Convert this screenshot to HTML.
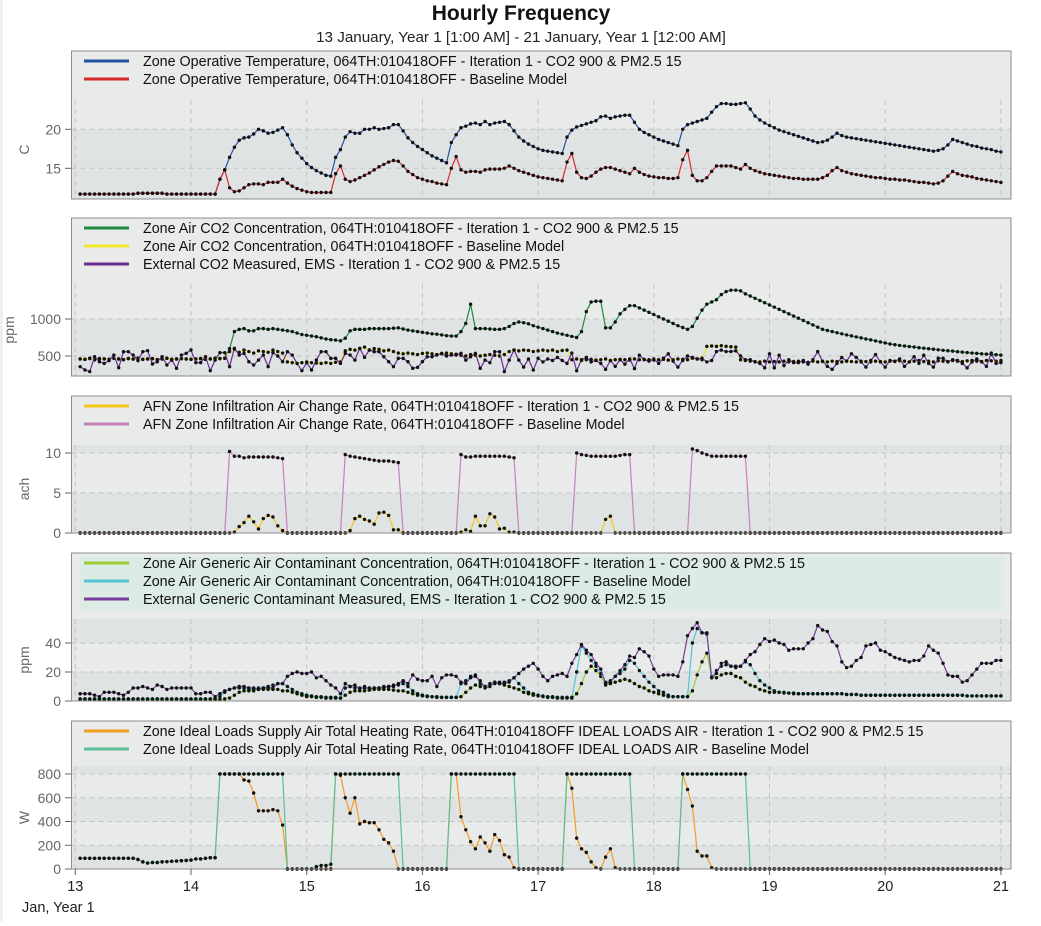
<!DOCTYPE html>
<html><head><meta charset="utf-8">
<style>
html,body{margin:0;padding:0;background:#fff;}
body{width:1041px;height:921px;overflow:hidden;position:relative;font-family:"Liberation Sans",Arial,sans-serif;}
svg text{font-family:"Liberation Sans",Arial,sans-serif;}
</style></head>
<body>
<svg id="chart" width="1041" height="921" viewBox="0 0 1041 921" xmlns="http://www.w3.org/2000/svg">
<rect x="0" y="0" width="3" height="921" fill="#efefef"/>
<text x="521" y="20" text-anchor="middle" font-size="21" font-weight="bold" fill="#111">Hourly Frequency</text>
<text x="521" y="42" text-anchor="middle" font-size="15.2" fill="#222">13 January, Year 1 [1:00 AM] - 21 January, Year 1 [12:00 AM]</text>
<g id="panels"></g>
</svg>
<script>
// ---- Data (hourly, 192 points starting 13 Jan 1:00) ----
const dayTicks = [13,14,15,16,17,18,19,20,21];
const xAxisTitle = "Jan, Year 1";

const tempIter = [
11.7,11.7,11.7,11.7,11.7,11.7,11.7,11.7,11.7,11.7,11.7,11.7,11.8,11.8,11.8,11.8,11.8,11.8,11.7,11.7,11.7,11.7,11.7,11.7,
11.7,11.7,11.7,11.7,11.7,13.6,14.8,16.4,17.7,18.6,18.9,19.0,19.4,20.0,19.8,19.5,19.6,19.9,20.2,19.3,18.0,17.0,16.3,15.6,
15.1,14.7,14.4,14.1,14.0,16.4,17.4,19.0,19.7,19.5,19.5,20.0,20.0,20.2,20.0,20.1,20.2,20.6,20.6,19.8,18.9,18.3,17.8,17.4,
17.0,16.6,16.3,16.0,15.7,18.3,19.3,20.2,20.4,20.7,20.8,20.6,21.0,20.6,20.8,20.9,21.0,20.6,19.8,19.0,18.5,18.1,17.8,17.5,
17.3,17.2,17.1,17.0,16.9,19.0,19.9,20.3,20.5,20.7,20.9,21.1,21.6,21.7,21.4,21.6,21.7,21.8,21.8,20.9,20.0,19.6,19.3,19.0,
18.7,18.5,18.3,18.1,17.9,20.0,20.6,20.8,21.0,21.2,21.4,22.2,22.9,23.3,23.3,23.2,23.2,23.3,23.4,22.6,21.7,21.2,20.8,20.5,
20.2,19.9,19.7,19.5,19.3,19.1,18.9,18.7,18.5,18.3,18.4,18.6,19.0,19.5,19.2,19.0,18.9,18.8,18.7,18.6,18.5,18.4,18.3,18.2,
18.1,18.0,17.9,17.8,17.7,17.6,17.5,17.4,17.3,17.2,17.3,17.5,18.0,18.7,18.5,18.3,18.1,17.9,17.8,17.6,17.5,17.4,17.2,17.1];
const tempBase = [
11.7,11.7,11.7,11.7,11.7,11.7,11.7,11.7,11.7,11.7,11.7,11.7,11.8,11.8,11.8,11.8,11.8,11.8,11.7,11.7,11.7,11.7,11.7,11.7,
11.7,11.7,11.7,11.7,11.7,13.6,14.8,12.5,12.0,12.1,12.5,12.9,13.0,13.0,12.9,13.2,13.2,13.2,13.6,13.1,12.7,12.4,12.2,12.0,
11.9,11.9,11.9,11.9,11.9,14.3,15.3,13.6,13.3,13.5,13.8,14.1,14.4,14.8,15.2,15.5,15.8,16.0,15.9,15.3,14.6,14.2,13.8,13.6,
13.4,13.3,13.1,13.0,12.9,15.0,16.5,14.8,14.5,14.6,14.6,14.5,14.8,14.9,14.9,14.9,15.0,15.3,15.0,14.7,14.5,14.3,14.1,13.9,
13.8,13.7,13.6,13.5,13.4,15.8,16.9,14.5,13.8,13.7,14.0,14.5,14.9,15.1,15.1,14.9,14.7,14.5,14.3,15.0,14.5,14.2,14.0,13.9,
13.8,13.8,13.7,13.7,13.8,16.1,17.3,14.1,13.4,13.4,13.8,14.6,15.3,15.3,15.3,15.3,15.1,14.9,15.5,15.0,14.7,14.5,14.3,14.2,
14.1,14.0,13.9,13.8,13.7,13.7,13.6,13.6,13.6,13.6,13.8,14.1,14.7,15.1,14.7,14.5,14.3,14.2,14.1,14.0,13.9,13.8,13.8,13.7,
13.6,13.6,13.5,13.5,13.4,13.3,13.2,13.2,13.1,13.0,13.1,13.4,14.0,14.6,14.3,14.1,14.0,13.9,13.7,13.6,13.5,13.4,13.3,13.2];

const co2Iter = [
460,455,470,450,465,460,455,470,460,450,465,460,470,455,460,465,450,460,470,455,460,465,460,455,
460,465,455,460,470,465,470,600,830,860,870,840,840,870,870,860,870,860,850,840,830,810,790,780,
770,760,745,730,720,715,705,740,840,860,860,860,870,870,870,870,870,875,880,865,850,840,830,820,
810,800,795,785,775,770,770,830,940,1200,870,870,870,865,860,860,870,900,940,960,950,935,910,890,
870,850,830,810,795,780,765,750,830,1100,1230,1240,1240,880,880,960,1070,1130,1180,1180,1150,1120,1090,1060,
1030,1000,970,940,910,885,860,900,1010,1120,1200,1230,1260,1330,1370,1390,1390,1380,1340,1310,1280,1250,1220,1190,
1160,1130,1100,1070,1040,1010,980,950,920,890,860,845,830,815,800,785,772,758,745,730,718,704,690,676,
662,652,643,636,628,621,612,606,598,592,584,577,571,566,558,552,547,540,536,530,526,520,517,512];
const co2Base = [
460,455,465,450,460,462,455,468,460,452,465,458,470,455,460,462,452,460,468,455,460,465,460,455,
460,465,455,460,470,465,470,560,590,550,580,560,540,570,560,550,580,560,540,420,410,400,410,420,
410,405,400,410,400,415,420,570,590,580,600,620,580,600,590,570,580,560,540,530,540,530,520,535,
540,530,520,530,540,530,525,510,500,520,510,500,510,520,510,500,520,560,580,570,580,575,560,570,
580,570,580,560,575,580,450,460,440,450,455,445,450,460,440,450,455,450,445,460,450,455,450,445,
450,455,445,450,460,455,450,470,460,450,630,635,630,640,630,625,620,450,440,430,425,420,430,420,
425,420,430,420,425,430,420,415,430,420,425,420,430,425,420,430,425,420,430,425,420,430,425,420,
430,425,435,430,420,430,440,425,430,420,435,430,425,440,430,425,435,440,430,425,440,435,430,440];
const co2Ext = [
356,311,290,490,423,400,437,513,342,558,558,513,437,558,572,392,423,490,378,445,333,513,536,581,
410,410,490,302,445,545,545,356,604,513,536,423,378,445,513,356,545,500,423,558,513,400,302,410,
311,445,558,558,468,468,400,536,513,445,604,482,581,558,558,490,423,356,468,468,423,333,347,423,
490,490,513,536,500,513,513,536,445,490,536,333,445,410,558,558,290,445,581,
445,350,460,310,470,420,460,440,480,440,400,540,300,450,480,420,440,400,320,440,
360,450,390,460,330,510,450,430,460,400,470,530,430,350,440,500,480,460,470,420,
440,560,580,560,560,570,500,450,450,420,400,340,530,340,510,370,450,410,410,440,
390,450,560,430,360,320,400,480,430,530,480,420,350,440,520,420,350,440,430,460,
360,420,490,400,510,400,350,470,470,420,450,440,400,340,420,460,420,360,540,400,410];

const achIter = [
0,0,0,0,0,0,0,0,0,0,0,0,0,0,0,0,0,0,0,0,0,0,0,0,
0,0,0,0,0,0,0,0,0.1,0.8,1.3,2.1,1.4,0.5,1.8,2.2,2.0,0.9,0.3,0,0,0,0,0,
0,0,0,0,0,0,0,0,0.3,1.8,2.1,1.7,1.5,1.1,2.5,2.6,2.2,0.4,0.4,0,0,0,0,0,
0,0,0,0,0,0,0,0.1,0.4,0.2,2.1,0.9,0.9,2.4,2.0,0.5,0.6,0.1,0.1,0,0,0,0,0,
0,0,0,0,0,0,0,0,0,0,0,0,0,1.7,2.1,0,0,0,0,0,0,0,0,0,
0,0,0,0,0,0,0,0,0,0,0,0,0,0,0,0,0,0,0,0,0,0,0,0,
0,0,0,0,0,0,0,0,0,0,0,0,0,0,0,0,0,0,0,0,0,0,0,0,
0,0,0,0,0,0,0,0,0,0,0,0,0,0,0,0,0,0,0,0,0,0,0,0];
const achBase = [
0,0,0,0,0,0,0,0,0,0,0,0,0,0,0,0,0,0,0,0,0,0,0,0,
0,0,0,0,0,0,0,10.2,9.6,9.6,9.4,9.5,9.5,9.5,9.5,9.5,9.5,9.4,9.3,0,0,0,0,0,
0,0,0,0,0,0,0,9.8,9.6,9.5,9.4,9.3,9.2,9.1,9.0,9.0,9.0,8.9,8.8,0,0,0,0,0,
0,0,0,0,0,0,0,9.8,9.5,9.5,9.6,9.6,9.6,9.6,9.6,9.6,9.6,9.5,9.4,0,0,0,0,0,
0,0,0,0,0,0,0,10.0,9.8,9.7,9.6,9.6,9.6,9.6,9.6,9.6,9.7,9.8,9.8,0,0,0,0,0,
0,0,0,0,0,0,0,10.5,10.3,10.0,9.8,9.6,9.6,9.6,9.6,9.6,9.6,9.6,9.6,0,0,0,0,0,
0,0,0,0,0,0,0,0,0,0,0,0,0,0,0,0,0,0,0,0,0,0,0,0,
0,0,0,0,0,0,0,0,0,0,0,0,0,0,0,0,0,0,0,0,0,0,0,0];

const gcIter = [
1,1,1,1,1,1,1,1,1,1,1,1,1,1,1,1,1,1,1,1,1,1,1,1,
1,1,1,1,1,1,1.5,2,4,6,7,7,7,8,8,8,8,8,7,7,6,5,4,3,
3,2.5,2.5,2,2,2,2,4,6,7,7,7,7.5,8,8,8,8,7.5,7,7,6,5,4,3.5,
3,3,2.5,2.5,2.5,2.5,2.5,3,6,9,11,10,10,11,12,12,11,10,9,8,6,5,4,3.5,
3,2.5,2.5,2,2,2,2,5,12,20,24,21,17,11,12,13,14,15,14,12,10,9,7,6,
5,4,3,3,3,3,3,7,18,27,33,17,16,18,19,19,17,16,13,11,10,8,7,6,
6,6,5.5,5.5,5,5,5,5,5,5,5,5,5,5,5,4.5,4.5,4.5,4,4,4,4,4,4,
4,4,4,4,4,4,4,4,4,4,4,4,4,4,4,4,3.5,3.5,3.5,3.5,3.5,3.5,3.5,3.5];
const gcBase = [
1.5,1.5,1.5,1.5,1.5,1.5,1.5,1.5,1.5,1.5,1.5,1.5,1.5,1.5,1.5,1.5,1.5,1.5,1.5,1.5,1.5,1.5,1.5,1.5,
1.5,1.5,1.5,1.5,1.5,3,6,8,9,9,9,8,8,9,9,10,11,12,12,10,8,6,5,4,
3.5,3,3,2.5,2.5,2.5,2,9,10,9,9,9,9,9,9,10,10,11,11,12,10,7,5,4,
3.5,3,3,2.5,2.5,2.5,2.5,12,14,17,18,12,10,12,13,13,13,14,16,12,9,6,5,4,
3.5,3,3,2.5,2.5,2.5,2.5,20,38,33,28,24,19,13,14,17,19,22,28,26,21,17,13,10,
7,6,4,3,3,3,3,40,50,47,46,16,21,24,25,24,23,24,27,25,19,14,11,9,
7,6,6,5.5,5.5,5,5,5,5,5,5,5,5,5,5,4.5,4.5,4.5,4,4,4,4,4,4,
4,4,4,4,4,4,4,4,4,4,4,4,4,4,4,4,3.5,3.5,3.5,3.5,3.5,3.5,3.5,3.5];
const gcExt = [
5,5,5,4,3,6,6,6,5,4,6,9,9,10,9,8,11,10,8,9,9,9,9,9,
5,5,6,6,3,5,7,8,9,10,10,9,9,8,9,9,9,12,12,17,19,20,19,19,
20,16,17,14,11,9,5,12,10,11,8,10,8,9,9,9,10,10,12,14,12,18,15,14,
14,17,10,16,18,18,17,13,12,16,17,14,9,10,13,12,12,13,16,
19,22,24,26,22,17,14,17,18,19,17,26,32,39,35,32,26,22,12,13,
17,21,25,31,30,36,34,31,22,17,18,18,18,17,27,45,50,54,47,47,
16,19,26,27,24,24,24,28,32,34,39,43,41,42,40,39,35,36,36,36,
40,43,52,49,48,41,38,27,23,24,28,30,38,39,40,35,34,32,30,29,
28,27,28,28,31,38,35,33,26,18,17,17,13,14,18,22,26,26,26,28,28];

const heatIter = [
90,90,90,90,90,90,90,90,90,90,90,90,80,60,50,55,55,60,62,65,67,70,72,75,
85,85,90,95,95,800,800,800,800,800,750,740,640,490,490,490,500,490,370,0,0,0,0,0,
0,0,0,0,0,800,790,600,470,600,380,400,390,390,330,250,220,150,0,0,0,0,0,0,
0,0,0,0,0,800,800,440,330,230,170,270,220,150,290,240,120,100,10,0,0,0,0,0,
0,0,0,0,0,800,680,260,170,140,60,10,0,100,170,10,0,0,0,0,0,0,0,0,
0,0,0,0,0,800,670,530,150,110,110,10,0,0,0,0,0,0,0,0,0,0,0,0,
0,0,0,0,0,0,0,0,0,0,0,0,0,0,0,0,0,0,0,0,0,0,0,0,
0,0,0,0,0,0,0,0,0,0,0,0,0,0,0,0,0,0,0,0,0,0,0,0];
const heatBase = [
90,90,90,90,90,90,90,90,90,90,90,90,80,60,50,55,55,60,62,65,67,70,72,75,
85,85,90,95,95,800,800,800,800,800,800,800,800,800,800,800,800,800,800,0,0,0,0,0,
0,20,30,30,40,800,800,800,800,800,800,800,800,800,800,800,800,800,800,0,0,0,0,0,
0,0,0,0,0,800,800,800,800,800,800,800,800,800,800,800,800,800,800,0,0,0,0,0,
0,0,0,0,0,800,800,800,800,800,800,800,800,800,800,800,800,800,800,0,0,0,0,0,
0,0,0,0,0,800,800,800,800,800,800,800,800,800,800,800,800,800,800,0,0,0,0,0,
0,0,0,0,0,0,0,0,0,0,0,0,0,0,0,0,0,0,0,0,0,0,0,0,
0,0,0,0,0,0,0,0,0,0,0,0,0,0,0,0,0,0,0,0,0,0,0,0];

const tempTicks = [15,20];
const co2Ticks = [500,1000];
const achTicks = [0,5,10];
const gcTicks = [0,20,40];
const heatTicks = [0,200,400,600,800];

// ---- Layout ----
const NS = "http://www.w3.org/2000/svg";
const FX0 = 71.5, FX1 = 1011;
function xScale(i){ return 75.3 + (i+1)/24*115.7; }
function dayX(d){ return 75.3 + (d-13)*115.7; }

const panels = [
 {name:"temperature", top:51, bottom:199, plotTop:100, unit:"C", titleX:29, v0:15, y0:168.3, k:7.8, ticks:tempTicks,
  dark:[[20,-1e9]], legendBg:null,
  series:[
   {name:"zone-operative-temperature-iteration-1", label:"Zone Operative Temperature, 064TH:010418OFF - Iteration 1 - CO2 900 & PM2.5 15", color:"#2452a0", data:tempIter},
   {name:"zone-operative-temperature-baseline", label:"Zone Operative Temperature, 064TH:010418OFF - Baseline Model", color:"#d62b2b", data:tempBase}]},
 {name:"co2", top:218, bottom:376, plotTop:284, unit:"ppm", titleX:14, v0:500, y0:356, k:0.074, ticks:co2Ticks,
  dark:[[1000,-1e9]], legendBg:null,
  series:[
   {name:"zone-air-co2-iteration-1", label:"Zone Air CO2 Concentration, 064TH:010418OFF - Iteration 1 - CO2 900 & PM2.5 15", color:"#1e8a3e", data:co2Iter},
   {name:"zone-air-co2-baseline", label:"Zone Air CO2 Concentration, 064TH:010418OFF - Baseline Model", color:"#f2e62a", data:co2Base},
   {name:"external-co2-measured", label:"External CO2 Measured, EMS - Iteration 1 - CO2 900 & PM2.5 15", color:"#6a2c8e", data:co2Ext}]},
 {name:"infiltration", top:396, bottom:533, plotTop:445, unit:"ach", titleX:29, v0:0, y0:533, k:8, ticks:achTicks,
  dark:[[1e9,10],[5,-1e9]], legendBg:null,
  series:[
   {name:"afn-infiltration-iteration-1", label:"AFN Zone Infiltration Air Change Rate, 064TH:010418OFF - Iteration 1 - CO2 900 & PM2.5 15", color:"#f5c518", data:achIter},
   {name:"afn-infiltration-baseline", label:"AFN Zone Infiltration Air Change Rate, 064TH:010418OFF - Baseline Model", color:"#c780bc", data:achBase}]},
 {name:"contaminant", top:553, bottom:701, plotTop:619, unit:"ppm", titleX:29, v0:0, y0:701, k:1.45, ticks:gcTicks,
  dark:[[1e9,40],[20,-1e9]], legendBg:[556,610],
  series:[
   {name:"generic-contaminant-iteration-1", label:"Zone Air Generic Air Contaminant Concentration, 064TH:010418OFF - Iteration 1 - CO2 900 & PM2.5 15", color:"#9acd32", data:gcIter},
   {name:"generic-contaminant-baseline", label:"Zone Air Generic Air Contaminant Concentration, 064TH:010418OFF - Baseline Model", color:"#4fc6d3", data:gcBase},
   {name:"external-generic-contaminant", label:"External Generic Contaminant Measured, EMS - Iteration 1 - CO2 900 & PM2.5 15", color:"#7a3d9c", data:gcExt}]},
 {name:"heating", top:721, bottom:869, plotTop:766, unit:"W", titleX:29, v0:0, y0:869, k:0.11875, ticks:heatTicks,
  dark:[[1e9,800],[600,400],[200,-1e9]], legendBg:null,
  series:[
   {name:"heating-rate-iteration-1", label:"Zone Ideal Loads Supply Air Total Heating Rate, 064TH:010418OFF IDEAL LOADS AIR - Iteration 1 - CO2 900 & PM2.5 15", color:"#f39c23", data:heatIter},
   {name:"heating-rate-baseline", label:"Zone Ideal Loads Supply Air Total Heating Rate, 064TH:010418OFF IDEAL LOADS AIR - Baseline Model", color:"#5cbf95", data:heatBase}]}
];

function mk(tag, attrs, parent){
  const e = document.createElementNS(NS, tag);
  for (const k in attrs) e.setAttribute(k, attrs[k]);
  parent.appendChild(e);
  return e;
}

const root = document.getElementById("panels");
panels.forEach(function(p){
  const yS = function(v){ return p.y0 - (v - p.v0)*p.k; };
  const g = mk("g", {}, root);
  
  
  const frame = mk("rect", {x:FX0, y:p.top, width:FX1-FX0, height:p.bottom-p.top, fill:"#e9eaea"}, g);
  
  
  p.dark.forEach(function(b){
    let y1 = Math.max(p.plotTop, Math.min(p.bottom, yS(b[0])));
    let y2 = Math.max(p.plotTop, Math.min(p.bottom, yS(b[1])));
    if (b[0] > 1e8) y1 = p.plotTop;
    if (b[1] < -1e8) y2 = p.bottom;
    const r = mk("rect", {x:FX0, y:y1, width:FX1-FX0, height:Math.max(0,y2-y1), fill:"#dfe3e3"}, g);
    
    
  });
  if (p.legendBg){
    const lb = mk("rect", {x:80, y:p.legendBg[0], width:923, height:p.legendBg[1]-p.legendBg[0], fill:"#dcebe3"}, g);
    
    
  }
  dayTicks.forEach(function(d){
    const l = mk("line", {x1:dayX(d), x2:dayX(d), y1:p.plotTop, y2:p.bottom, stroke:"#c4c4c4", "stroke-width":1, "stroke-dasharray":"5,4"}, g);
    
    
  });
  p.ticks.forEach(function(t){
    const y = yS(t);
    if (y < p.bottom - 1){
      const l = mk("line", {x1:FX0, x2:FX1, y1:y, y2:y, stroke:"#c4c4c4", "stroke-width":1, "stroke-dasharray":"5,4"}, g);
      
      
    }
    const tk = mk("line", {x1:65, x2:FX0, y1:y, y2:y, stroke:"#666", "stroke-width":1}, g);
    
    
    const tx = mk("text", {x:61, y:y+5, "text-anchor":"end", "font-size":14, fill:"#666"}, g);
    
    
    tx.textContent = String(t);
  });
  const cy = (p.plotTop + p.bottom)/2;
  const yt = mk("text", {x:0, y:0, "text-anchor":"middle", "font-size":14, fill:"#666", transform:"translate(" + p.titleX + "," + cy + ") rotate(-90)"}, g);
  
  
  yt.textContent = p.unit;
  p.series.forEach(function(s){
    const pts = s.data.map(function(v,i){ return xScale(i).toFixed(2) + "," + yS(v).toFixed(2); }).join(" ");
    const pl = mk("polyline", {points:pts, fill:"none", stroke:s.color, "stroke-width":1.2}, g);
    
    
    const mg = mk("g", {fill:"#111"}, g);
    
    
    s.data.forEach(function(v,i){
      const c = mk("circle", {cx:xScale(i).toFixed(2), cy:yS(v).toFixed(2), r:1.7}, mg);
      
      
    });
  });
  p.series.forEach(function(s, j){
    const ly = p.top + 10 + j*18;
    const lg = mk("g", {}, g);
    
    
    mk("line", {x1:84, x2:129, y1:ly, y2:ly, stroke:s.color, "stroke-width":3}, lg);
    const t = mk("text", {x:143, y:ly+5, "font-size":14.3, fill:"#111"}, lg);
    
    
    t.textContent = s.label;
  });
  const br = mk("rect", {x:FX0, y:p.top, width:FX1-FX0, height:p.bottom-p.top, fill:"none", stroke:"#8c8c8c", "stroke-width":1}, g);
  
  
});

const svg = document.getElementById("chart");
const xg = mk("g", {}, svg);


dayTicks.forEach(function(d){
  mk("line", {x1:dayX(d), x2:dayX(d), y1:869, y2:875, stroke:"#666"}, xg);
  const t = mk("text", {x:dayX(d), y:891, "text-anchor":"middle", "font-size":14.5, fill:"#222"}, xg);
  
  
  t.textContent = String(d);
});
const xt = mk("text", {x:22, y:912, "font-size":14.5, fill:"#222"}, xg);


xt.textContent = xAxisTitle;
</script>
</body></html>
